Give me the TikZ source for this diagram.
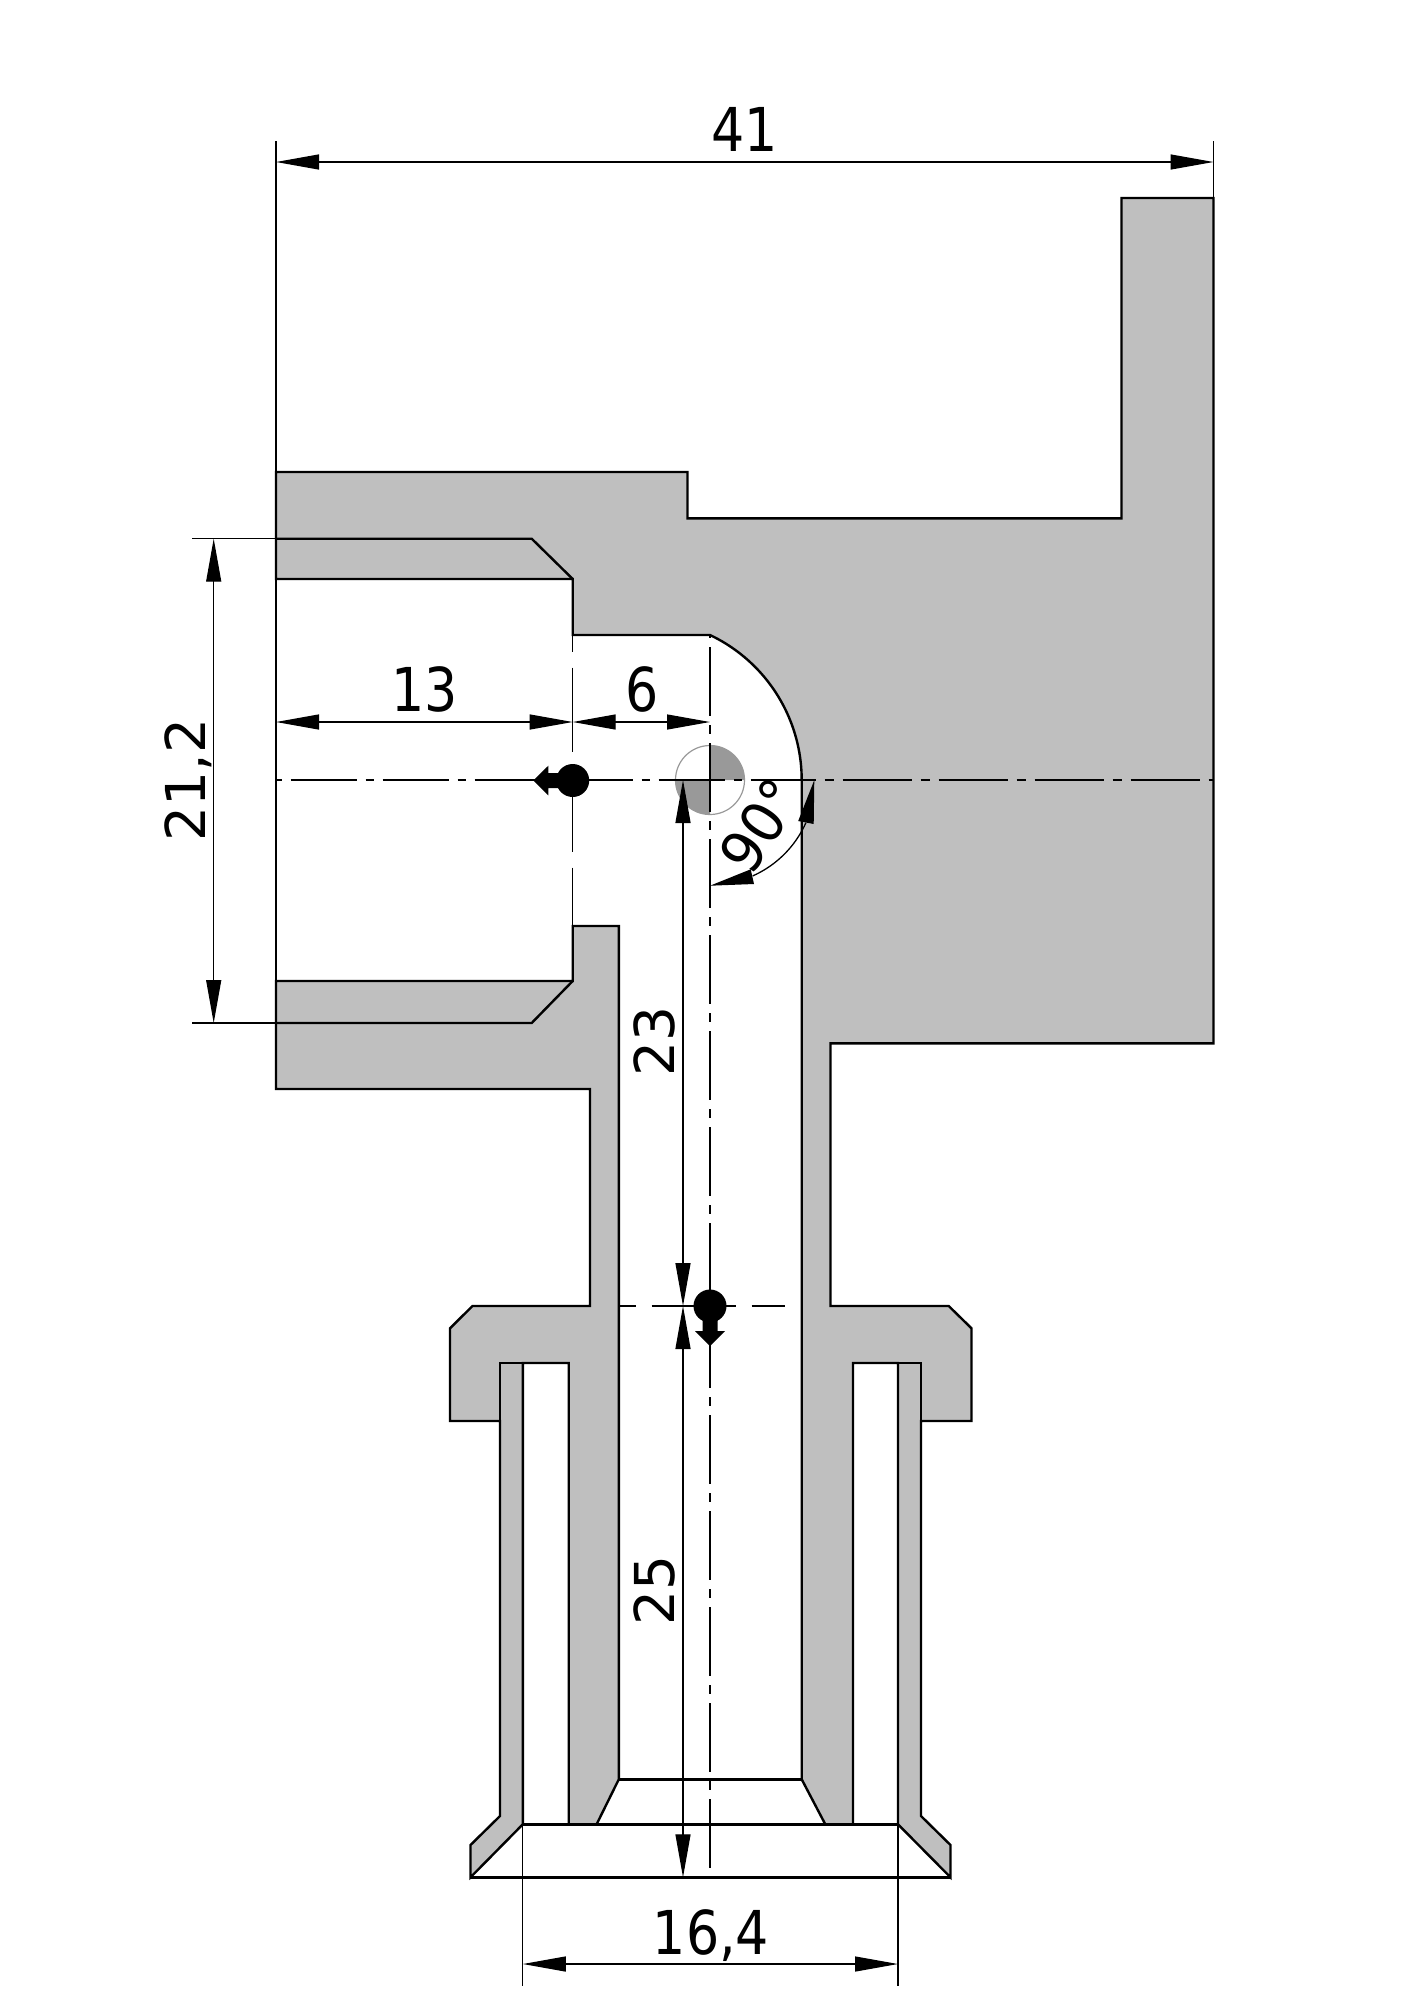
\documentclass[tikz,border=0pt]{standalone}
\usepackage{fontspec}
\setmainfont{DejaVu Sans}
\usetikzlibrary{arrows.meta}
\definecolor{body}{HTML}{BFBFBF}
\definecolor{cog}{HTML}{999999}
\tikzset{
  outline/.style={draw=black,line width=2.4pt,line join=miter},
  solidfill/.style={fill=body},
  thin line/.style={draw=black,line width=1.3pt},
  dimboth/.style={thin line,{Triangle[length=43pt,width=15pt]}-{Triangle[length=43pt,width=15pt]}},
  centreleft/.style={thin line,dash pattern=on 66pt off 9pt on 8pt off 9pt,dash phase=77.5pt},
  centreright/.style={thin line,dash pattern=on 69pt off 9pt on 9pt off 9pt,dash phase=55pt},
  centrevert/.style={thin line,dash pattern=on 69pt off 9pt on 9pt off 9pt,dash phase=83.7pt},
  longdash/.style={thin line,dash pattern=on 84pt off 16pt,dash phase=67.3pt},
  label/.style={font=\fontsize{55}{60}\selectfont,inner sep=0pt,anchor=base},
  hlabel/.style={label,xscale=.95,yscale=1.1},
  vlabel/.style={label,rotate=90},
}
\begin{document}
\begin{tikzpicture}[x=1pt,y=-1pt]
\useasboundingbox (0,0) rectangle (1414,2000);
% main body
\path[solidfill,outline] (276,472) -- (687.5,472) -- (687.5,518.3) -- (1121.5,518.3) -- (1121.5,198) -- (1213.5,198)
  -- (1213.5,1043.3) -- (830.5,1043.3) -- (830.5,1306) -- (948.7,1306) -- (971.5,1328.3) -- (971.5,1421)
  -- (921,1421) -- (921,1816) -- (950.5,1845) -- (950.5,1877.3) -- (898,1824.3) -- (898,1363)
  -- (853,1363) -- (853,1824.3) -- (825.3,1824.3) -- (801.7,1779.3) -- (801.7,780)
  -- plot[domain=0:64.6,samples=40] ({641.2+160.5*cos(\x)},{780-160.5*sin(\x)})
  -- (572.7,635) -- (572.7,579) -- (276,579) -- cycle;
% lower-left body
\path[solidfill,outline] (572.7,926) -- (618.8,926) -- (618.8,1779.3) -- (596.6,1824.3) -- (568.7,1824.3)
  -- (568.7,1363) -- (522.8,1363) -- (522.8,1824.3) -- (470.5,1877.3) -- (470.5,1845) -- (500,1816)
  -- (500,1421) -- (450,1421) -- (450,1328.3) -- (472.5,1306) -- (590,1306) -- (590,1089) -- (276,1089)
  -- (276,981) -- (572.7,981) -- cycle;
% inner outlines
\draw[outline] (276,538.7) -- (531.7,538.7) -- (572.7,579);
\draw[outline] (276,1023) -- (531.7,1023) -- (572.7,981);
\draw[outline] (276,579) -- (276,981);
\draw[outline] (522.8,1363) -- (500,1363) -- (500,1421);
\draw[outline] (853,1363) -- (921,1363) -- (921,1421);
\draw[outline] (618.8,1779.3) -- (801.7,1779.3);
\draw[outline] (522.8,1824.3) -- (898,1824.3);
\draw[outline] (470.5,1877.3) -- (950.5,1877.3);
% centre of gravity symbol
\fill[cog] (710,780) -- (710,745.5) arc[start angle=90,end angle=0,radius=34.5pt] -- cycle;
\fill[cog] (710,780) -- (710,814.5) arc[start angle=270,end angle=180,radius=34.5pt] -- cycle;
\draw[cog,line width=1.2pt] (710,780) circle[radius=34.5pt];
% centre lines
\draw[centreleft] (276,780) -- (801.7,780);
\draw[centreright] (801.7,780) -- (1213.5,780);
\draw[centrevert] (710,635) -- (710,1877.3);
\draw[longdash] (572.7,635) -- (572.7,926);
\draw[longdash] (618.8,1306) -- (785,1306);
% extension lines
\draw[thin line] (276,141) -- (276,472);
\draw[thin line] (1213.5,141) -- (1213.5,198);
\draw[thin line] (192,538.7) -- (276,538.7);
\draw[thin line] (192,1023) -- (276,1023);
\draw[thin line] (522.8,1824.3) -- (522.8,1985.7);
\draw[thin line] (898,1824.3) -- (898,1985.7);
% dimensions
\draw[dimboth] (276,162) -- (1213.5,162);
\draw[dimboth] (213.7,538.7) -- (213.7,1023);
\draw[dimboth] (276,722) -- (572.7,722);
\draw[dimboth] (572.7,722) -- (710,722);
\draw[dimboth] (522.8,1964) -- (898,1964);
\draw[dimboth] (683,780) -- (683,1306);
\draw[dimboth] (683,1306) -- (683,1877.3);
% angle dimension
\draw[thin line] plot[domain=24:66,samples=20] ({710+105*cos(\x)},{780+105*sin(\x)});
\fill (814.3,780) -- (813.7,824) -- (798.2,821) -- cycle;
\fill (710,885.7) -- (750.7,869.3) -- (754,884) -- cycle;
% markers
\fill (572.7,780.5) circle[radius=16.5pt];
\fill (575,773) -- (548.3,773) -- (548.3,765.7) -- (533.3,780.5) -- (548.3,795.3) -- (548.3,788) -- (575,788) -- cycle;
\fill (710,1306) circle[radius=16.5pt];
\fill (702.5,1306) -- (702.5,1331) -- (695,1331) -- (710,1346) -- (725,1331) -- (717.5,1331) -- (717.5,1306) -- cycle;
% labels
\node[hlabel] (l41) at (744.5,151.7) {41};
\node[hlabel] (l13) at (425,711) {13};
\node[hlabel] (l6) at (641.7,711.5) {6};
\node[hlabel] (l164) at (711,1954) {16,4};
\node[vlabel] (l212) at (205,780) {21,2};
\node[vlabel] (l23) at (674,1041.5) {23};
\node[vlabel] (l25) at (674,1590) {25};
\node[label,rotate=57,yscale=1.05] (l90) at (778,837) {90°};
\end{tikzpicture}
\end{document}
